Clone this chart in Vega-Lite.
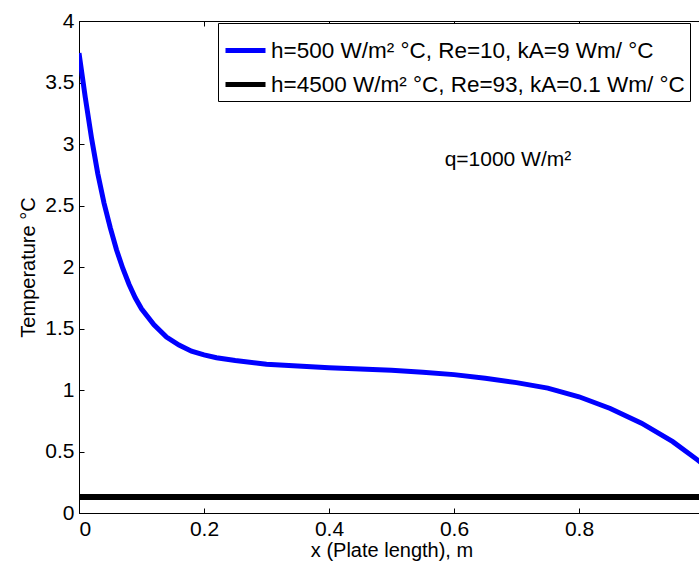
{
  "$schema": "https://vega.github.io/schema/vega-lite/v6.json",
  "width": 625,
  "height": 492,
  "autosize": "none",
  "padding": {"left": 79, "top": 21, "right": 0, "bottom": 52},
  "background": "white",
  "config": {
    "font": "Liberation Sans",
    "view": {"stroke": "black", "strokeWidth": 1},
    "axis": {
      "domainColor": "black",
      "tickColor": "black",
      "labelColor": "black",
      "titleColor": "black",
      "grid": false,
      "labelFont": "Liberation Sans",
      "titleFont": "Liberation Sans",
      "labelFontSize": 21,
      "titleFontSize": 20,
      "titleFontWeight": "normal",
      "tickSize": -5,
      "labelPadding": 10
    }
  },
  "layer": [
    {
      "data": {"values": [
        {"x": 0.0, "t": 3.74, "series": "h=500 W/m² °C, Re=10, kA=9 Wm/ °C"},
        {"x": 0.01, "t": 3.38, "series": "h=500 W/m² °C, Re=10, kA=9 Wm/ °C"},
        {"x": 0.02, "t": 3.05, "series": "h=500 W/m² °C, Re=10, kA=9 Wm/ °C"},
        {"x": 0.03, "t": 2.76, "series": "h=500 W/m² °C, Re=10, kA=9 Wm/ °C"},
        {"x": 0.04, "t": 2.52, "series": "h=500 W/m² °C, Re=10, kA=9 Wm/ °C"},
        {"x": 0.05, "t": 2.32, "series": "h=500 W/m² °C, Re=10, kA=9 Wm/ °C"},
        {"x": 0.06, "t": 2.14, "series": "h=500 W/m² °C, Re=10, kA=9 Wm/ °C"},
        {"x": 0.07, "t": 1.99, "series": "h=500 W/m² °C, Re=10, kA=9 Wm/ °C"},
        {"x": 0.08, "t": 1.86, "series": "h=500 W/m² °C, Re=10, kA=9 Wm/ °C"},
        {"x": 0.09, "t": 1.75, "series": "h=500 W/m² °C, Re=10, kA=9 Wm/ °C"},
        {"x": 0.10, "t": 1.66, "series": "h=500 W/m² °C, Re=10, kA=9 Wm/ °C"},
        {"x": 0.12, "t": 1.53, "series": "h=500 W/m² °C, Re=10, kA=9 Wm/ °C"},
        {"x": 0.14, "t": 1.43, "series": "h=500 W/m² °C, Re=10, kA=9 Wm/ °C"},
        {"x": 0.16, "t": 1.365, "series": "h=500 W/m² °C, Re=10, kA=9 Wm/ °C"},
        {"x": 0.18, "t": 1.315, "series": "h=500 W/m² °C, Re=10, kA=9 Wm/ °C"},
        {"x": 0.20, "t": 1.285, "series": "h=500 W/m² °C, Re=10, kA=9 Wm/ °C"},
        {"x": 0.22, "t": 1.262, "series": "h=500 W/m² °C, Re=10, kA=9 Wm/ °C"},
        {"x": 0.25, "t": 1.24, "series": "h=500 W/m² °C, Re=10, kA=9 Wm/ °C"},
        {"x": 0.30, "t": 1.21, "series": "h=500 W/m² °C, Re=10, kA=9 Wm/ °C"},
        {"x": 0.35, "t": 1.195, "series": "h=500 W/m² °C, Re=10, kA=9 Wm/ °C"},
        {"x": 0.40, "t": 1.18, "series": "h=500 W/m² °C, Re=10, kA=9 Wm/ °C"},
        {"x": 0.45, "t": 1.17, "series": "h=500 W/m² °C, Re=10, kA=9 Wm/ °C"},
        {"x": 0.50, "t": 1.16, "series": "h=500 W/m² °C, Re=10, kA=9 Wm/ °C"},
        {"x": 0.55, "t": 1.145, "series": "h=500 W/m² °C, Re=10, kA=9 Wm/ °C"},
        {"x": 0.60, "t": 1.125, "series": "h=500 W/m² °C, Re=10, kA=9 Wm/ °C"},
        {"x": 0.65, "t": 1.095, "series": "h=500 W/m² °C, Re=10, kA=9 Wm/ °C"},
        {"x": 0.70, "t": 1.06, "series": "h=500 W/m² °C, Re=10, kA=9 Wm/ °C"},
        {"x": 0.75, "t": 1.015, "series": "h=500 W/m² °C, Re=10, kA=9 Wm/ °C"},
        {"x": 0.80, "t": 0.945, "series": "h=500 W/m² °C, Re=10, kA=9 Wm/ °C"},
        {"x": 0.85, "t": 0.85, "series": "h=500 W/m² °C, Re=10, kA=9 Wm/ °C"},
        {"x": 0.90, "t": 0.73, "series": "h=500 W/m² °C, Re=10, kA=9 Wm/ °C"},
        {"x": 0.95, "t": 0.58, "series": "h=500 W/m² °C, Re=10, kA=9 Wm/ °C"},
        {"x": 0.99, "t": 0.43, "series": "h=500 W/m² °C, Re=10, kA=9 Wm/ °C"},
        {"x": 1.0, "t": 0.39, "series": "h=500 W/m² °C, Re=10, kA=9 Wm/ °C"}
      ]},
      "mark": {"type": "line", "strokeWidth": 5, "clip": true},
      "encoding": {
        "x": {"field": "x", "type": "quantitative", "scale": {"domain": [0, 1], "nice": false},
              "axis": {"orient": "bottom", "values": [0, 0.2, 0.4, 0.6, 0.8], "title": "x (Plate length), m", "titlePadding": 1, "format": "~g"}},
        "y": {"field": "t", "type": "quantitative", "scale": {"domain": [0, 4], "nice": false},
              "axis": {"orient": "left", "values": [0, 0.5, 1, 1.5, 2, 2.5, 3, 3.5, 4], "title": "Temperature °C", "titlePadding": 6, "format": "~g"}},
        "color": {"field": "series", "type": "nominal",
          "scale": {"domain": ["h=500 W/m² °C, Re=10, kA=9 Wm/ °C", "h=4500 W/m² °C, Re=93, kA=0.1 Wm/ °C"], "range": ["#0000FF", "#000000"]},
          "legend": {"orient": "none", "legendX": 139, "legendY": 2, "title": null,
            "symbolType": "stroke", "symbolSize": 1600, "symbolStrokeWidth": 5,
            "labelFontSize": 22.5, "labelFont": "Liberation Sans", "labelColor": "black", "labelLimit": 700,
            "strokeColor": "black", "fillColor": "white", "padding": 5, "rowPadding": -5, "labelOffset": 3}}
      }
    },
    {
      "data": {"values": [
        {"x": 0.0, "t": 0.13, "series": "h=4500 W/m² °C, Re=93, kA=0.1 Wm/ °C"},
        {"x": 1.0, "t": 0.13, "series": "h=4500 W/m² °C, Re=93, kA=0.1 Wm/ °C"}
      ]},
      "mark": {"type": "line", "strokeWidth": 6},
      "encoding": {
        "x": {"field": "x", "type": "quantitative", "axis": {"orient": "top", "values": [0, 0.2, 0.4, 0.6, 0.8, 1], "labels": false, "title": null, "domain": false}},
        "y": {"field": "t", "type": "quantitative", "axis": {"orient": "right", "values": [0, 0.5, 1, 1.5, 2, 2.5, 3, 3.5, 4], "labels": false, "title": null, "domain": false}},
        "color": {"field": "series", "type": "nominal"}
      }
    },
    {
      "data": {"values": [{"x": 0.585, "t": 2.87, "label": "q=1000 W/m²"}]},
      "mark": {"type": "text", "align": "left", "baseline": "middle", "fontSize": 21, "font": "Liberation Sans", "color": "black"},
      "encoding": {
        "x": {"field": "x", "type": "quantitative", "axis": null},
        "y": {"field": "t", "type": "quantitative", "axis": null},
        "text": {"field": "label"}
      }
    }
  ],
  "resolve": {"axis": {"x": "independent", "y": "independent"}}
}
